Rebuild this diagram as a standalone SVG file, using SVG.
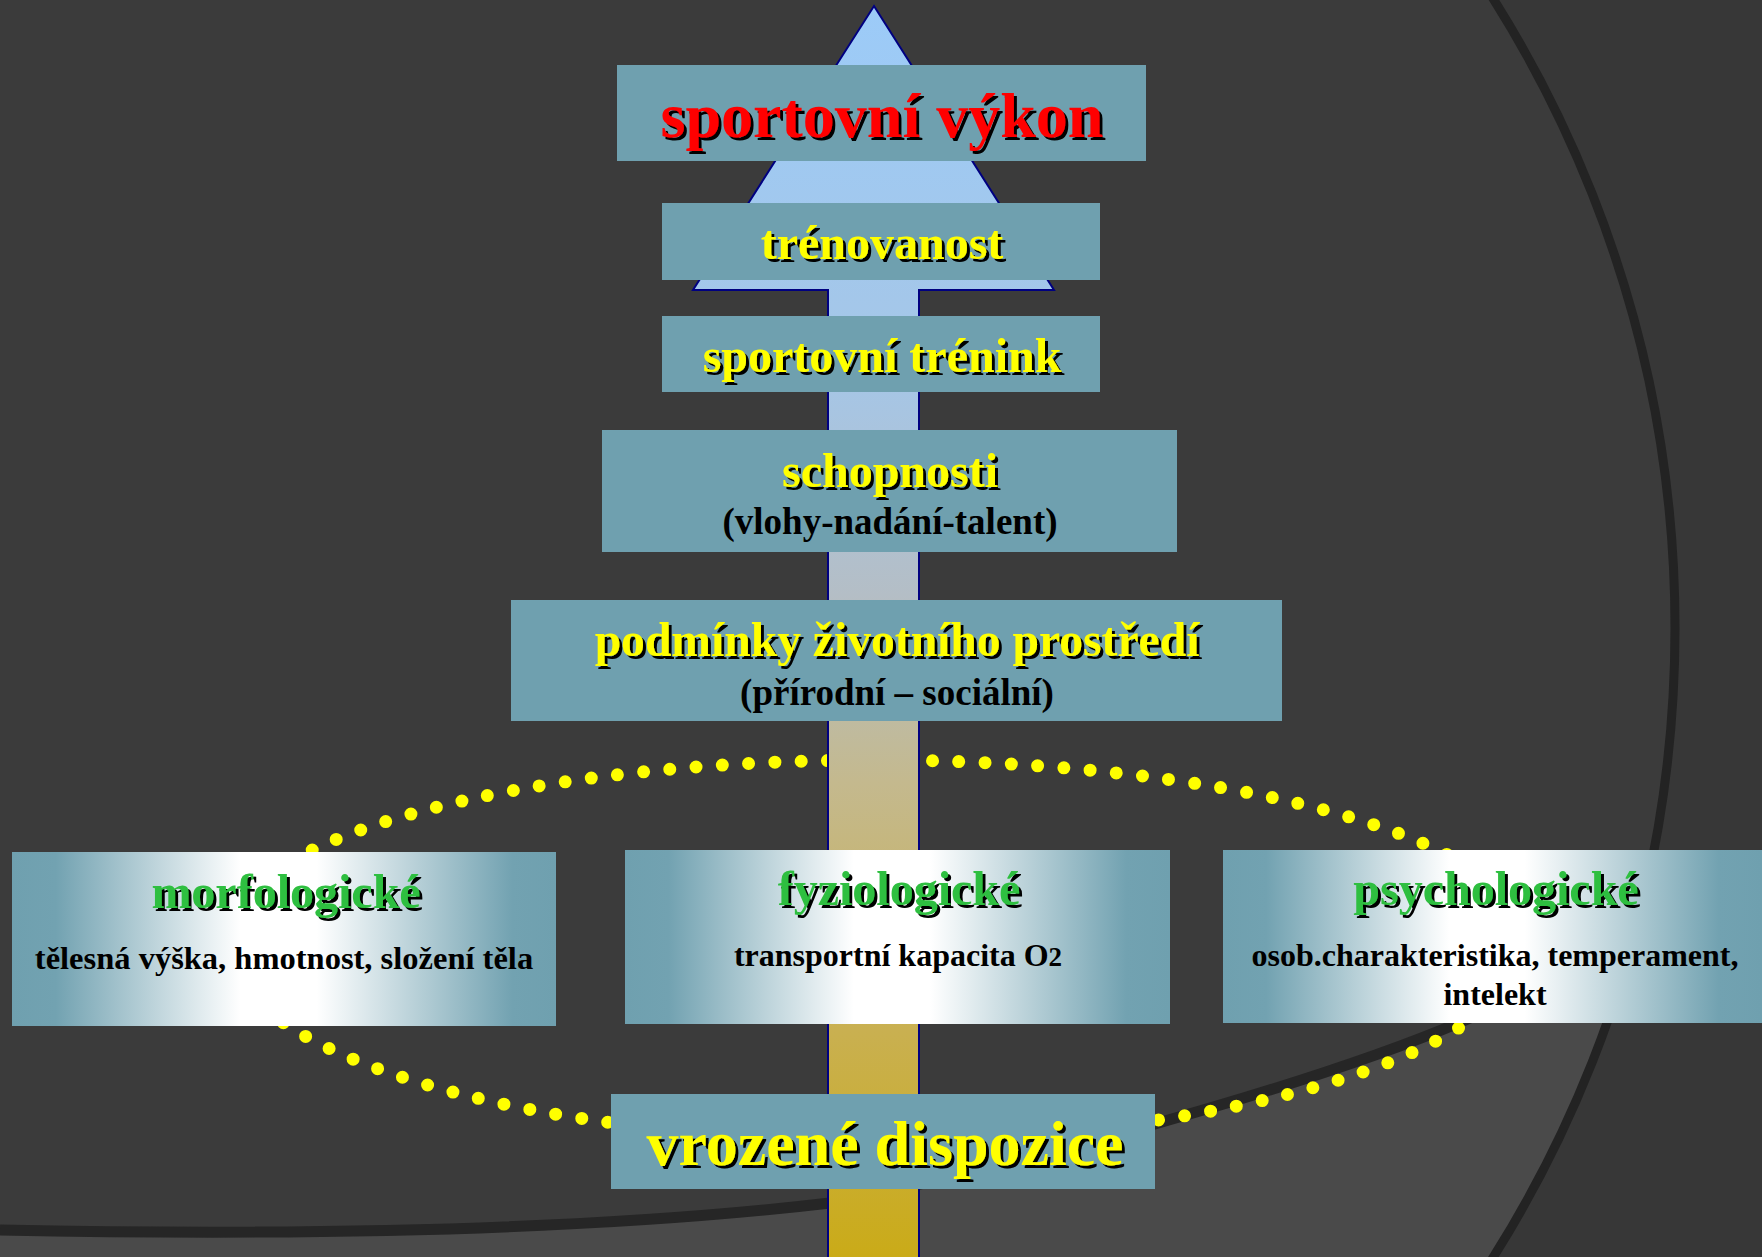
<svg xmlns="http://www.w3.org/2000/svg" width="1762" height="1257" viewBox="0 0 1762 1257">
<defs>
<style>
.t{font-family:"Liberation Serif","Times New Roman",serif;font-weight:bold;text-anchor:middle}
.box{fill:#6fa0af}
.gbox{fill:url(#gb)}
.y{fill:#ffff00}
.g{fill:#2fbf3f}
.k{fill:#000}
</style>
<linearGradient id="gb" x1="0" y1="0" x2="1" y2="0">
<stop offset="0" stop-color="#6fa0af"/>
<stop offset="0.08" stop-color="#72a2b1"/>
<stop offset="0.42" stop-color="#ffffff"/>
<stop offset="0.56" stop-color="#ffffff"/>
<stop offset="0.92" stop-color="#72a2b1"/>
<stop offset="1" stop-color="#6fa0af"/>
</linearGradient>
<linearGradient id="ga" gradientUnits="userSpaceOnUse" x1="0" y1="6" x2="0" y2="1257">
<stop offset="0" stop-color="#9ccbf8"/>
<stop offset="0.3" stop-color="#a6c6e6"/>
<stop offset="0.47" stop-color="#b4bec6"/>
<stop offset="0.62" stop-color="#c4b98e"/>
<stop offset="0.82" stop-color="#c9b050"/>
<stop offset="1" stop-color="#caab18"/>
</linearGradient>
<clipPath id="inC"><circle cx="495" cy="628" r="1180"/></clipPath>
<filter id="sh" x="-5%" y="-10%" width="115%" height="130%">
<feOffset in="SourceAlpha" dx="3" dy="3" result="o"/>
<feFlood flood-color="#000"/>
<feComposite in2="o" operator="in" result="s"/>
<feMerge><feMergeNode in="s"/><feMergeNode in="SourceGraphic"/></feMerge>
</filter>
<filter id="sh2" x="-5%" y="-10%" width="115%" height="130%">
<feOffset in="SourceAlpha" dx="2.5" dy="2.5" result="o"/>
<feFlood flood-color="#000"/>
<feComposite in2="o" operator="in" result="s"/>
<feMerge><feMergeNode in="s"/><feMergeNode in="SourceGraphic"/></feMerge>
</filter>
</defs>

<g id="background">
<rect x="0" y="0" width="1762" height="1257" fill="#3b3b3b"/>
<g clip-path="url(#inC)">
<path d="M0,1230 C300,1236 600,1230 830,1203 C1000,1170 1300,1090 1461,1022 C1600,960 1700,900 1800,840 L1800,1300 L0,1300 Z" fill="#4a4a4a"/>
<path d="M0,1230 C300,1236 600,1230 830,1203 C1000,1170 1300,1090 1461,1022 C1600,960 1700,900 1800,840" fill="none" stroke="#262626" stroke-width="11"/>
</g>
<path d="M0,0 H1762 V1257 H0 Z M1675,628 A1180,1180 0 1 0 1675,628.01 Z" fill="#373737" fill-rule="evenodd"/>
<circle cx="495" cy="628" r="1180" fill="none" stroke="#232323" stroke-width="9"/>
</g>

<g id="dotted-ellipse">
<path d="M225,940 A650,180 0 0 1 1525,940 A650,200 0 0 1 225,940 Z" fill="none" stroke="#ffff00" stroke-width="13" stroke-linecap="round" stroke-dasharray="0 26.3"/>
</g>

<g id="connectors">
<path d="M874,6 L1054,290 L919,290 L919,1262 L828,1262 L828,290 L693,290 Z" fill="url(#ga)" stroke="#000080" stroke-width="2" stroke-linejoin="miter"/>
</g>

<g id="n-vykon">
<rect class="box" x="617" y="65" width="529" height="96"/>
<text class="t" x="882" y="137" font-size="64" fill="#ff0000" filter="url(#sh)">sportovní výkon</text>
</g>
<g id="n-trenovanost">
<rect class="box" x="662" y="203" width="438" height="77"/>
<text class="t y" x="882" y="259" font-size="48" filter="url(#sh2)">trénovanost</text>
</g>
<g id="n-trenink">
<rect class="box" x="662" y="316" width="438" height="76"/>
<text class="t y" x="882" y="372" font-size="48" filter="url(#sh2)">sportovní trénink</text>
</g>
<g id="n-schopnosti">
<rect class="box" x="602" y="430" width="575" height="122"/>
<text class="t y" x="890" y="487" font-size="48" filter="url(#sh2)">schopnosti</text>
<text class="t k" x="890" y="534" font-size="37">(vlohy-nadání-talent)</text>
</g>
<g id="n-podminky">
<rect class="box" x="511" y="600" width="771" height="121"/>
<text class="t y" x="897" y="656" font-size="47.6" filter="url(#sh2)">podmínky životního prostředí</text>
<text class="t k" x="897" y="705" font-size="37">(přírodní – sociální)</text>
</g>
<g id="n-morfologicke">
<rect class="gbox" x="12" y="852" width="544" height="174"/>
<text class="t g" x="286" y="908" font-size="48" filter="url(#sh2)">morfologické</text>
<text class="t k" x="284" y="969" font-size="32.5">tělesná výška, hmotnost, složení těla</text>
</g>
<g id="n-fyziologicke">
<rect class="gbox" x="625" y="850" width="545" height="174"/>
<text class="t g" x="899" y="905" font-size="48" filter="url(#sh2)">fyziologické</text>
<text class="t k" x="898" y="966" font-size="32">transportní kapacita O<tspan font-size="27">2</tspan></text>
</g>
<g id="n-psychologicke">
<rect class="gbox" x="1223" y="850" width="539" height="173"/>
<text class="t g" x="1496" y="905" font-size="48" filter="url(#sh2)">psychologické</text>
<text class="t k" x="1495" y="966" font-size="32">osob.charakteristika, temperament,</text>
<text class="t k" x="1495" y="1005" font-size="32">intelekt</text>
</g>
<g id="n-vrozene">
<rect class="box" x="611" y="1094" width="544" height="95"/>
<text class="t y" x="885" y="1165" font-size="64" filter="url(#sh)">vrozené dispozice</text>
</g>
</svg>
